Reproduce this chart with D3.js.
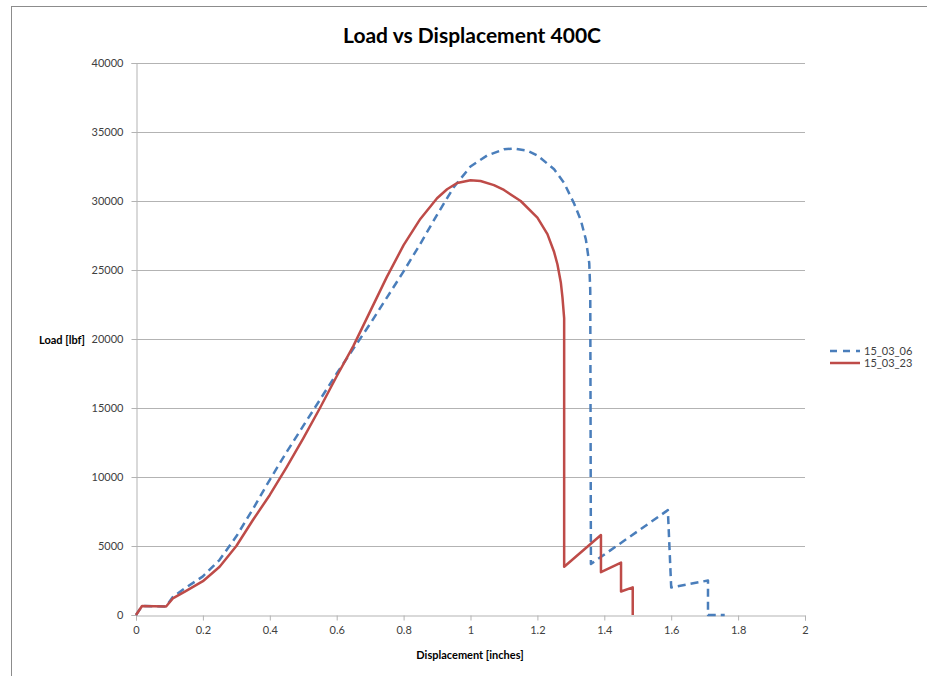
<!DOCTYPE html>
<html>
<head>
<meta charset="utf-8">
<script src="https://cdn.jsdelivr.net/npm/d3@7"></script>
<style>
  body { margin: 0; background: #fff; }
  text { font-family: Lato, "Open Sans", sans-serif; }
</style>
</head>
<body>
<div id="chart"></div>
<script>
// series: displacement [inches] / load [lbf]
const disp0306 = [0, 0.018, 0.09, 0.11, 0.15, 0.2, 0.25, 0.3, 0.35, 0.4, 0.45, 0.5, 0.55, 0.6, 0.65, 0.7, 0.75, 0.8, 0.85, 0.9, 0.95, 1.0, 1.05, 1.1, 1.13, 1.17, 1.2, 1.25, 1.28, 1.31, 1.33, 1.345, 1.355, 1.358, 1.36, 1.59, 1.6, 1.71, 1.71, 1.76];
const load0306 = [0, 650, 620, 1300, 2000, 2800, 4000, 5700, 7700, 9800, 11800, 13700, 15600, 17500, 19300, 21100, 23000, 24900, 26900, 29000, 31000, 32500, 33300, 33750, 33800, 33650, 33300, 32300, 31300, 29800, 28600, 27200, 25500, 23500, 3700, 7600, 2000, 2500, 0, 0];

const disp0323 = [0, 0.018, 0.09, 0.11, 0.15, 0.2, 0.25, 0.3, 0.35, 0.4, 0.45, 0.5, 0.55, 0.6, 0.65, 0.7, 0.75, 0.8, 0.85, 0.9, 0.93, 0.96, 1.0, 1.03, 1.07, 1.1, 1.15, 1.2, 1.23, 1.25, 1.26, 1.27, 1.275, 1.28, 1.28, 1.39, 1.39, 1.45, 1.45, 1.485, 1.485];
const load0323 = [0, 650, 620, 1200, 1750, 2450, 3500, 5000, 6900, 8700, 10700, 12800, 15000, 17300, 19500, 22000, 24500, 26800, 28700, 30200, 30850, 31300, 31500, 31450, 31150, 30800, 30000, 28800, 27600, 26300, 25400, 24100, 23000, 21500, 3500, 5800, 3100, 3800, 1700, 2000, 0];

const seriesNames = ["15_03_06", "15_03_23"];
const xTicks = [0, 0.2, 0.4, 0.6, 0.8, 1, 1.2, 1.4, 1.6, 1.8, 2];
const yTicks = [0, 5000, 10000, 15000, 20000, 25000, 30000, 35000, 40000];

const W = 927, H = 676;
const margin = { top: 63, right: 122, bottom: 61, left: 136 };
const width = W - margin.left - margin.right;
const height = H - margin.top - margin.bottom;

const svg = d3.select("#chart").append("svg")
    .attr("width", W)
    .attr("height", H);

// outer chart border
svg.append("rect")
    .attr("x", 11.5).attr("y", 6.5)
    .attr("width", W).attr("height", H)
    .attr("fill", "none")
    .attr("stroke", "#8c8c8c");

svg.append("text")
    .attr("x", 472).attr("y", 43)
    .attr("text-anchor", "middle")
    .style("font-size", "21px")
    .style("font-weight", "bold")
    .text("Load vs Displacement 400C");

const g = svg.append("g").attr("transform", `translate(${margin.left},${margin.top})`);

const x = d3.scaleLinear().domain([0, 2]).range([0, width]);
const y = d3.scaleLinear().domain([0, 40000]).range([height, 0]);

// gridlines
g.append("g")
    .selectAll("line")
    .data(yTicks.filter(d => d > 0))
    .enter().append("line")
    .attr("x1", 0).attr("x2", width)
    .attr("y1", d => Math.round(y(d)) + 0.5)
    .attr("y2", d => Math.round(y(d)) + 0.5)
    .attr("stroke", "#b3b3b3");

const yAxis = g.append("g")
    .attr("transform", "translate(0.5,0)")
    .call(d3.axisLeft(y).tickValues(yTicks).tickSize(5).tickPadding(8).tickFormat(d3.format("d")));
const xAxis = g.append("g")
    .attr("transform", `translate(0,${height + 0.5})`)
    .call(d3.axisBottom(x).tickValues(xTicks).tickSize(5).tickPadding(6).tickFormat(d => d));

[xAxis, yAxis].forEach(a => {
    a.select(".domain").attr("stroke", "#b3b3b3");
    a.selectAll(".tick line").attr("stroke", "#b3b3b3");
    a.selectAll(".tick text")
        .attr("fill", "#404040")
        .style("font-size", "11px")
        .style("font-family", "Lato, 'Open Sans', sans-serif");
});

svg.append("text")
    .attr("x", 470).attr("y", 659)
    .attr("text-anchor", "middle")
    .style("font-size", "11px")
    .style("font-weight", "bold")
    .text("Displacement [inches]");

svg.append("text")
    .attr("x", 62).attr("y", 344)
    .attr("text-anchor", "middle")
    .style("font-size", "11px")
    .style("font-weight", "bold")
    .text("Load [lbf]");

const line = d3.line()
    .x(d => x(d[0]))
    .y(d => y(d[1]));

const series = [
    { name: seriesNames[0], pts: d3.zip(disp0306, load0306), color: "#4a7ebb", dash: "8,5" },
    { name: seriesNames[1], pts: d3.zip(disp0323, load0323), color: "#be4b48", dash: null }
];

series.forEach(s => {
    g.append("path")
        .datum(s.pts)
        .attr("fill", "none")
        .attr("stroke", s.color)
        .attr("stroke-width", 2.5)
        .attr("stroke-dasharray", s.dash)
        .attr("stroke-linejoin", "round")
        .attr("d", line);
});

// legend
const legend = svg.append("g").attr("transform", "translate(830,351)");
series.forEach((s, i) => {
    const row = legend.append("g").attr("transform", `translate(0,${i * 12})`);
    row.append("line")
        .attr("x1", 0).attr("x2", 30)
        .attr("stroke", s.color)
        .attr("stroke-width", 2.5)
        .attr("stroke-dasharray", s.dash ? "7,6" : null);
    row.append("text")
        .attr("x", 34).attr("y", 4)
        .attr("fill", "#404040")
        .style("font-size", "11px")
        .text(s.name);
});
</script>
</body>
</html>
